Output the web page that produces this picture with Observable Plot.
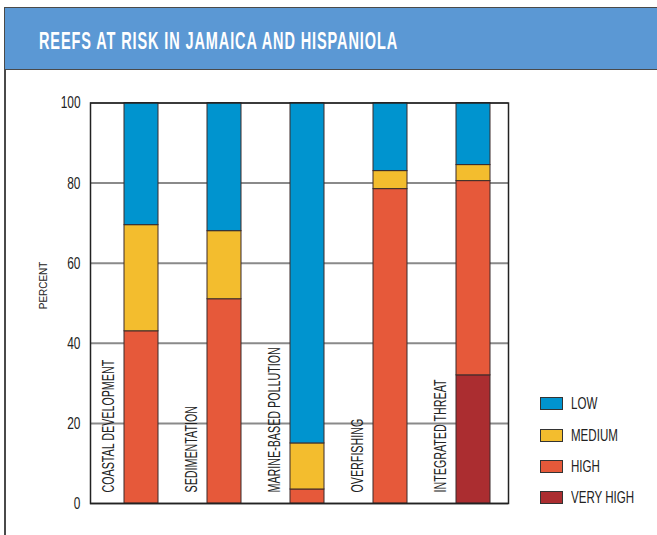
<!DOCTYPE html>
<html><head><meta charset="utf-8">
<script src="https://cdn.jsdelivr.net/npm/d3@7"></script>
<script src="https://cdn.jsdelivr.net/npm/@observablehq/plot@0.6"></script>
<style>
body{margin:0;background:#fff;}
#wrap{position:relative;width:657px;height:535px;overflow:hidden;font-family:"Liberation Sans",Arial,sans-serif;}
#hdr{position:absolute;left:4px;top:7px;width:670px;height:63px;background:#5b98d4;border:1.5px solid #4a4a4a;border-right:none;box-sizing:border-box;}
#title{position:absolute;left:39px;top:28.5px;color:#fff;font-weight:bold;font-size:24.5px;line-height:24.5px;letter-spacing:1.5px;white-space:nowrap;transform-origin:0 0;}
#vline{position:absolute;left:4px;top:70px;width:1.5px;height:470px;background:#4a4a4a;}
#chart{position:absolute;left:0;top:80px;}
#legend{position:absolute;left:540px;top:388.3px;font-size:16.5px;color:#222;}
.row{display:flex;align-items:center;height:31.3px;}
.sw{width:21px;height:11px;border:1px solid #333;margin-right:8px;flex:none;}
.lt{display:inline-block;transform-origin:0 50%;white-space:nowrap;}
</style></head>
<body>
<div id="wrap">
  <div id="hdr"></div>
  <div id="title">REEFS AT RISK IN JAMAICA AND HISPANIOLA</div>
  <div id="vline"></div>
  <div id="chart"></div>
  <div id="legend"></div>
</div>
<script>
const categories = ["COASTAL DEVELOPMENT","SEDIMENTATION","MARINE-BASED POLLUTION","OVERFISHING","INTEGRATED THREAT"];
const levels = ["VERY HIGH","HIGH","MEDIUM","LOW"];
const veryHigh = [0, 0, 0, 0, 32];
const high = [43, 51, 3.5, 78.5, 48.5];
const medium = [26.5, 17, 11.5, 4.5, 4];
const low = [30.5, 32, 85, 17, 15.5];
const colors = ["#ab2d30","#e6593a","#f3bd2e","#0094cf"];
const yTicks = [0, 20, 40, 60, 80, 100];
const legendOrder = ["LOW","MEDIUM","HIGH","VERY HIGH"];

const series = [veryHigh, high, medium, low];
const rows = [];
categories.forEach((c, i) => {
  levels.forEach((lv, j) => rows.push({category: c, level: lv, value: series[j][i]}));
});

const chart = Plot.plot({
  width: 657,
  height: 455,
  marginTop: 22.5,
  marginBottom: 32,
  marginLeft: 90,
  marginRight: 149,
  style: {fontFamily: "'Liberation Sans', Arial, sans-serif", fontSize: "17px", color: "#222", background: "transparent"},
  x: {type: "band", domain: categories, paddingInner: 0.593, paddingOuter: 0.3, align: 0.66, axis: null},
  y: {domain: [0, 100], ticks: yTicks},
  color: {domain: levels, range: colors},
  marks: [
    Plot.gridY(yTicks, {stroke: "#8a8a8a", strokeOpacity: 1, strokeWidth: 2}),
    Plot.barY(rows, Plot.stackY({order: null}, {x: "category", y: "value", fill: "level", stroke: "#3a2a2a", strokeWidth: 1})),
    Plot.text(categories, {x: d => d, frameAnchor: "bottom", rotate: -90, textAnchor: "start", dx: -28, dy: -11, fontSize: 17, fill: "#222", className: "cat"}),
    Plot.axisY(yTicks, {tickSize: 0, tickPadding: 10, label: null, fontSize: 17, className: "ticks"}),
    Plot.text(["PERCENT"], {frameAnchor: "left", rotate: -90, dx: -47, dy: 6, fontSize: 10.5, fill: "#222", className: "ylab"}),
    Plot.frame({stroke: "#222", strokeWidth: 1.5})
  ]
});
document.getElementById("chart").appendChild(chart);

function condense(sel, k) {
  chart.querySelectorAll(sel).forEach(t => {
    const L = t.getComputedTextLength();
    t.setAttribute("textLength", (L * k).toFixed(2));
    t.setAttribute("lengthAdjust", "spacingAndGlyphs");
  });
}
condense(".cat text", 0.63);
condense(".ticks text", 0.7);
condense(".ylab text", 0.95);

const color = chart.scale("color");
const legend = document.getElementById("legend");
legendOrder.forEach(lv => {
  const r = document.createElement("div");
  r.className = "row";
  const sw = document.createElement("div");
  sw.className = "sw";
  sw.style.background = color.apply(lv);
  const t = document.createElement("span");
  t.className = "lt";
  t.textContent = lv;
  t.style.transform = "scaleX(0.7)";
  r.appendChild(sw); r.appendChild(t);
  legend.appendChild(r);
});

const title = document.getElementById("title");
const w = title.getBoundingClientRect().width;
title.style.transform = `scaleX(${359 / w})`;
</script>
</body></html>
